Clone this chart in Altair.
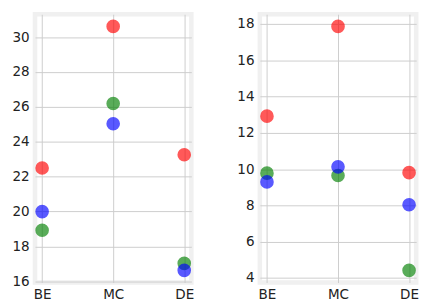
import altair as alt
import pandas as pd

categories = ["BE", "MC", "DE"]
series = ["red", "green", "blue"]

left_red = [22.5, 30.62, 23.26]
left_green = [18.93, 26.2, 17.03]
left_blue = [20.0, 25.04, 16.63]

right_red = [12.92, 17.86, 9.81]
right_green = [9.78, 9.65, 4.43]
right_blue = [9.3, 10.13, 8.04]

left_ticks = [16, 18, 20, 22, 24, 26, 28, 30]
right_ticks = [4, 6, 8, 10, 12, 14, 16, 18]

colors = ["#ff0000", "#008000", "#0000ff"]


def build(vals):
    rows = []
    for i, (s, v) in enumerate(zip(series, vals)):
        for c, y in zip(categories, v):
            rows.append({"cat": c, "series": s, "val": y, "ord": i})
    return pd.DataFrame(rows)


def panel(df, ticks):
    lo = float(df["val"].min())
    hi = float(df["val"].max())
    m = (hi - lo) * 0.05
    return alt.Chart(df).mark_circle(size=200, opacity=0.65, clip=True).encode(
        x=alt.X("cat:N", sort=categories,
                scale=alt.Scale(type="point", padding=0.1),
                axis=alt.Axis(title=None, labelAngle=0, grid=True, ticks=False,
                              tickSize=0, domain=False, labelPadding=6)),
        y=alt.Y("val:Q",
                scale=alt.Scale(domain=[lo - m, hi + m], nice=False, zero=False),
                axis=alt.Axis(title=None, values=ticks, grid=True, ticks=False,
                              tickSize=0, domain=False, labelPadding=6,
                              minExtent=25.35, maxExtent=25.35)),
        color=alt.Color("series:N", sort=series,
                        scale=alt.Scale(domain=series, range=colors), legend=None),
        order=alt.Order("ord:Q"),
    ).properties(width=162, height=278)


left = panel(build([left_red, left_green, left_blue]), left_ticks)
right = panel(build([right_red, right_green, right_blue]), right_ticks)

chart = alt.hconcat(left, right, spacing=38).properties(
    padding={"left": 0, "top": -2, "right": 0, "bottom": 0}
).configure_view(
    stroke="#f0f0f0", strokeWidth=4.7, fill="white"
).configure_axis(
    gridColor="#cccccc", gridWidth=1, gridOpacity=1,
    labelFont="DejaVu Sans", labelFontSize=14, labelColor="#222222"
)

chart.save("out.html", embed_options={"renderer": "svg", "actions": False})
